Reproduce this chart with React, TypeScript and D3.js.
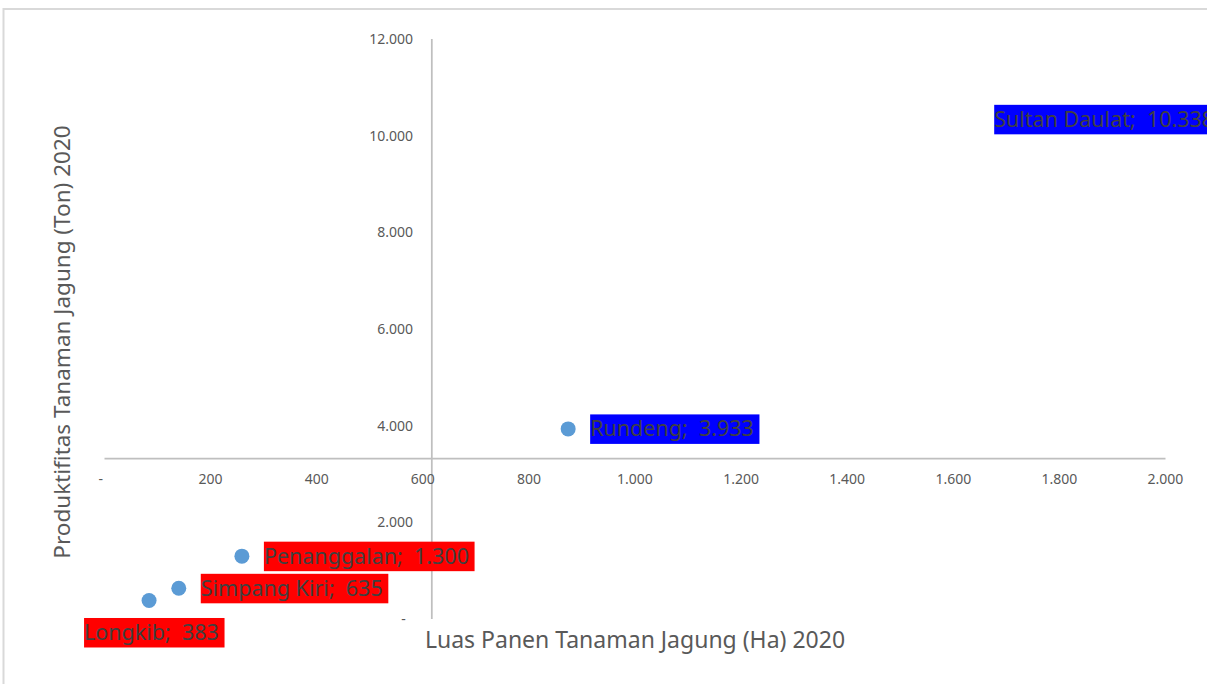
import React, { useEffect, useRef } from "react";
import * as d3 from "d3";

const names = ["Sultan Daulat", "Rundeng", "Penanggalan", "Simpang Kiri", "Longkib"];
const luasPanen = [1728, 874, 259, 140, 84];
const produktifitas = [10338, 3933, 1300, 635, 383];
const xTicks = [0, 200, 400, 600, 800, 1000, 1200, 1400, 1600, 1800, 2000];
const yTicks = [0, 2000, 4000, 6000, 8000, 10000, 12000];
const xTitle = "Luas Panen Tanaman Jagung (Ha) 2020";
const yTitle = "Produktifitas Tanaman Jagung (Ton) 2020";

// label box offsets (style, relative to the point)
const labelOffsets: Record<string, [number, number]> = {
  "Sultan Daulat": [-27, 0],
  Longkib: [-65, 32],
};
const defaultOffset: [number, number] = [22, 0];

const W = 1207;
const H = 684;
const FONT = "'Noto Sans', 'Open Sans', sans-serif";

export default function App() {
  const ref = useRef<SVGSVGElement>(null);
  useEffect(() => {
    const svg = d3.select(ref.current);
    svg.selectAll("*").remove();
    const loc = d3.formatLocale({ decimal: ",", thousands: ".", grouping: [3], currency: ["", ""] });
    const fmt = loc.format(",.0f");
    const tickFmt = (v: number) => (v === 0 ? "-  " : fmt(v));

    const x = d3.scaleLinear().domain([0, 2000]).range([104.5, 1165.5]);
    const y = d3.scaleLinear().domain([0, 12000]).range([619, 39]);
    const meanX = d3.mean(luasPanen) as number;
    const meanY = d3.mean(produktifitas) as number;

    // chart border
    svg.append("rect").attr("x", 3.5).attr("y", 9).attr("width", W + 20).attr("height", H + 20)
      .attr("fill", "#fff").attr("stroke", "#d9d9d9").attr("stroke-width", 2);

    // axes lines
    svg.append("line").attr("x1", x(0)).attr("x2", x(2000)).attr("y1", y(meanY)).attr("y2", y(meanY))
      .attr("stroke", "#bfbfbf").attr("stroke-width", 1.75);
    svg.append("line").attr("x1", x(meanX)).attr("x2", x(meanX)).attr("y1", y(0)).attr("y2", y(12000))
      .attr("stroke", "#bfbfbf").attr("stroke-width", 1.75);

    // x tick labels
    svg.append("g").selectAll("text").data(xTicks).join("text")
      .attr("x", (d) => x(d)).attr("y", y(meanY) + 20).attr("dy", "0.35em")
      .attr("text-anchor", "middle").attr("font-family", FONT).attr("font-size", 14)
      .attr("fill", "#595959").style("white-space", "pre").text((d) => tickFmt(d));

    // y tick labels
    svg.append("g").selectAll("text").data(yTicks).join("text")
      .attr("x", 413).attr("y", (d) => y(d)).attr("dy", "0.35em")
      .attr("text-anchor", "end").attr("font-family", FONT).attr("font-size", 14)
      .attr("fill", "#595959").style("white-space", "pre").text((d) => tickFmt(d));

    // axis titles
    svg.append("text").attr("x", 635).attr("y", 640).attr("dy", "0.35em").attr("text-anchor", "middle")
      .attr("font-family", FONT).attr("font-size", 23).attr("fill", "#595959").text(xTitle);
    svg.append("text").attr("transform", "translate(62,342) rotate(-90)").attr("dy", "0.35em")
      .attr("text-anchor", "middle").attr("font-family", FONT).attr("font-size", 22.5)
      .attr("fill", "#595959").text(yTitle);

    const data = names.map((n, i) => ({ name: n, x: luasPanen[i], y: produktifitas[i] }));

    // points
    svg.append("g").selectAll("circle").data(data).join("circle")
      .attr("cx", (d) => x(d.x)).attr("cy", (d) => y(d.y)).attr("r", 7.5).attr("fill", "#5b9bd5");

    // labels
    const lg = svg.append("g");
    data.forEach((d) => {
      const [dx, dy] = labelOffsets[d.name] || defaultOffset;
      const bx = x(d.x) + dx;
      const cy = y(d.y) + dy;
      const g = lg.append("g");
      const rect = g.append("rect");
      const t = g.append("text").attr("x", bx).attr("y", cy).attr("dy", "0.35em")
        .attr("font-family", FONT).attr("font-size", 21.5).attr("fill", "#404040")
        .style("white-space", "pre").text(`${d.name};  ${fmt(d.y)} `);
      const w = (t.node() as SVGTextElement).getComputedTextLength();
      rect.attr("x", bx).attr("y", cy - 14.5).attr("width", w).attr("height", 29.5)
        .attr("fill", d.y > meanY ? "#0000ff" : "#ff0000");
    });
  }, []);
  return (
    <svg ref={ref} width={W} height={H}
      style={{ position: "fixed", left: 0, top: 0, background: "#fff" }} />
  );
}
